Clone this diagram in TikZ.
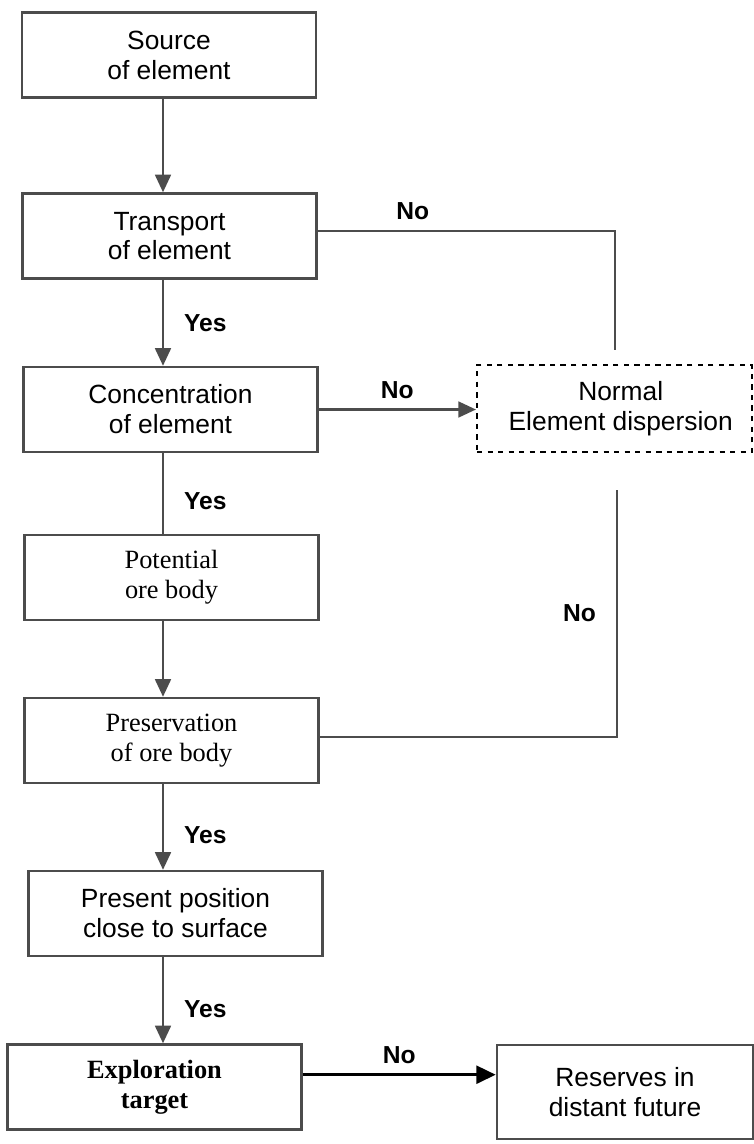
\documentclass[tikz,border=0pt]{standalone}
\usepackage{fontspec}
\setmainfont{Liberation Sans}
\newfontfamily\tms{Liberation Serif}
\usepackage{tikz}
\usetikzlibrary{positioning,calc,arrows.meta}

\begin{document}
\begin{tikzpicture}[
    font=\fontsize{15}{17}\selectfont,
    box/.style={draw=black!70, line width=1.4pt, align=center, minimum width=5.88cm, minimum height=1.7cm},
    arr/.style={draw=black!70, line width=1.3pt, -{Triangle[length=10pt,width=9pt]}},
    line/.style={draw=black!70, line width=1.3pt},
    lbl/.style={font=\fontsize{14}{16}\selectfont\bfseries}
]
    \useasboundingbox (0,0) rectangle (15.06,-22.88);

    \node[box] (src) at (3.38,-1.10) {Source\\of element};
    \node[box] (trans) at (3.39,-4.72) {Transport\\of element};
    \node[box] (conc) at (3.41,-8.19) {Concentration\\of element};
    \node[box] (pot) at (3.43,-11.55) {\tms Potential\\\tms ore body};
    \node[box] (pres) at (3.43,-14.81) {\tms Preservation\\\tms of ore body};
    \node[box] (pos) at (3.51,-18.27) {Present position\\close to surface};
    \node[box] (expl) at (3.09,-21.74) {\tms\bfseries Exploration\\\tms\bfseries target};
    \node[box, minimum width=5.12cm, minimum height=1.88cm] (res) at (12.5,-21.84) {Reserves in\\distant future};
    \node[box, dashed, draw=black, line width=1.2pt, minimum width=5.5cm, minimum height=1.74cm] (disp) at (12.29,-8.17) {\hspace*{0.25cm}Normal\\\hspace*{0.25cm}Element dispersion};

    % where the side lines stop
    \coordinate (col) at (3.26,0);
    \coordinate (dispTop) at (12.30,-7.0);
    \coordinate (dispBot) at (12.34,-9.8);

    \draw[arr] (src.south -| col) -- (trans.north -| col);
    \draw[arr] (trans.south -| col) -- (conc.north -| col) node[midway, right=8pt, lbl] {Yes};
    \draw[line] (conc.south -| col) -- (pot.north -| col) node[pos=0.6, right=8pt, lbl] {Yes};
    \draw[arr] (pot.south -| col) -- (pres.north -| col);
    \draw[arr] (pres.south -| col) -- (pos.north -| col) node[pos=0.6, right=8pt, lbl] {Yes};
    \draw[arr] (pos.south -| col) -- (expl.north -| col) node[pos=0.6, right=8pt, lbl] {Yes};

    \draw[line] ([yshift=3pt]trans.east) -| (dispTop) node[pos=0.16, above=2pt, lbl] {No};
    \draw[arr] (conc.east) -- (conc.east -| disp.west) node[midway, above=2pt, lbl] {No};
    \draw[line] ([yshift=2pt]pres.east) -| (dispBot) node[pos=0.75, left=8pt, lbl] {No};
    \draw[draw=black, line width=2pt, -{Triangle[length=11pt,width=10pt]}] ([yshift=7pt]expl.east) -- ([yshift=7pt]expl.east -| res.west) node[midway, above=2pt, lbl] {No};
\end{tikzpicture}
\end{document}
